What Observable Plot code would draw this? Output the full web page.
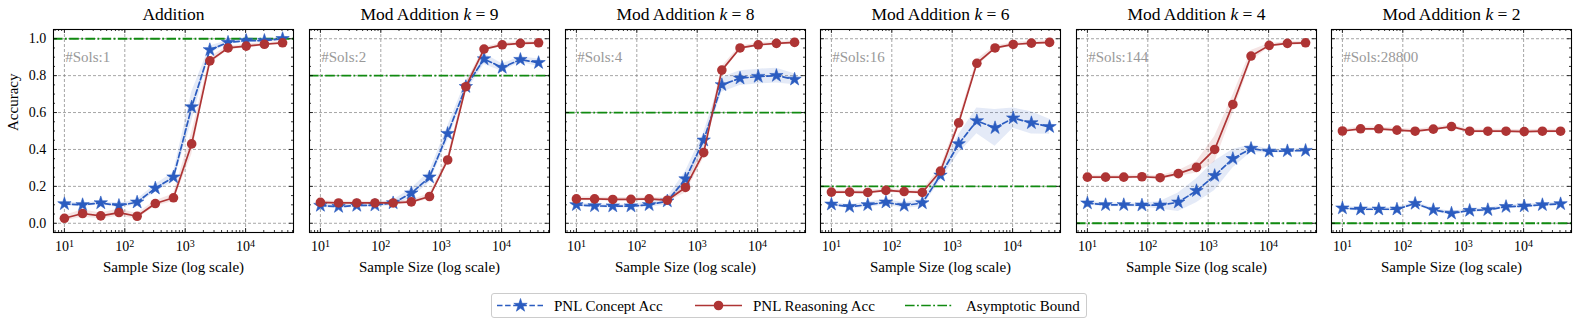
<!DOCTYPE html>
<html><head><meta charset="utf-8">
<script src="https://cdn.jsdelivr.net/npm/d3@7"></script>
<script src="https://cdn.jsdelivr.net/npm/@observablehq/plot@0.6"></script>
<style>
body{margin:0;background:#fff;font-family:"Liberation Serif",serif;}
#root{position:relative;width:1578px;height:326px;overflow:hidden;background:#fff;}
.panel{position:absolute;top:0;width:305px;}
.panel svg{max-width:none !important;}
</style></head><body><div id="root"></div>
<script>
// ---- data ----
const sizes = [10,20,40,80,160,320,640,1280,2560,5120,10240,20480,40960];
const titles = ["Addition","Mod Addition k = 9","Mod Addition k = 8","Mod Addition k = 6","Mod Addition k = 4","Mod Addition k = 2"];
const sols = [1,2,4,16,144,28800];
const bounds = [1.0,0.8,0.6,0.2,0.0,0.0];

const conceptAdd = [0.105,0.10,0.11,0.096,0.114,0.19,0.25,0.63,0.94,0.98,0.99,0.99,1.0];
const reasonAdd  = [0.027,0.053,0.04,0.058,0.038,0.107,0.138,0.43,0.88,0.95,0.96,0.97,0.978];
const conceptAddErr = [0.01,0.01,0.01,0.01,0.015,0.02,0.025,0.08,0.02,0.01,0.01,0.01,0.005];
const reasonAddErr  = [0.015,0.02,0.015,0.02,0.015,0.015,0.02,0.06,0.02,0.01,0.01,0.01,0.005];

const conceptK9 = [0.096,0.09,0.096,0.098,0.11,0.163,0.25,0.486,0.74,0.89,0.844,0.887,0.87];
const reasonK9  = [0.113,0.11,0.11,0.11,0.11,0.116,0.145,0.343,0.74,0.944,0.967,0.975,0.978];
const conceptK9Err = [0.01,0.01,0.01,0.01,0.015,0.025,0.03,0.04,0.03,0.03,0.02,0.015,0.02];
const reasonK9Err  = [0.01,0.01,0.01,0.01,0.01,0.01,0.015,0.02,0.02,0.01,0.01,0.01,0.01];

const conceptK8 = [0.10,0.094,0.093,0.093,0.10,0.12,0.24,0.45,0.75,0.786,0.795,0.80,0.78];
const reasonK8  = [0.132,0.132,0.129,0.13,0.132,0.125,0.194,0.383,0.83,0.95,0.967,0.975,0.98];
const conceptK8Err = [0.01,0.01,0.01,0.01,0.015,0.02,0.04,0.04,0.04,0.04,0.04,0.04,0.03];
const reasonK8Err  = [0.01,0.01,0.01,0.01,0.01,0.01,0.03,0.03,0.02,0.01,0.01,0.01,0.01];

const conceptK6 = [0.103,0.09,0.10,0.114,0.096,0.11,0.26,0.43,0.555,0.517,0.57,0.544,0.523];
const reasonK6  = [0.169,0.169,0.167,0.178,0.172,0.167,0.283,0.544,0.867,0.95,0.969,0.976,0.98];
const conceptK6Err = [0.01,0.01,0.015,0.015,0.015,0.02,0.03,0.05,0.07,0.1,0.055,0.06,0.04];
const reasonK6Err  = [0.01,0.01,0.01,0.01,0.01,0.01,0.02,0.02,0.02,0.01,0.01,0.01,0.01];

const conceptK4 = [0.109,0.10,0.10,0.098,0.098,0.114,0.176,0.258,0.35,0.405,0.39,0.392,0.394];
const reasonK4  = [0.25,0.25,0.25,0.252,0.247,0.269,0.303,0.40,0.644,0.906,0.964,0.975,0.978];
const conceptK4Err = [0.01,0.01,0.01,0.01,0.02,0.05,0.065,0.08,0.05,0.02,0.01,0.01,0.01];
const reasonK4Err  = [0.01,0.01,0.01,0.01,0.01,0.015,0.03,0.07,0.05,0.03,0.01,0.01,0.01];

const conceptK2 = [0.082,0.076,0.076,0.076,0.107,0.073,0.054,0.069,0.073,0.09,0.093,0.10,0.105];
const reasonK2  = [0.50,0.512,0.512,0.505,0.499,0.51,0.524,0.499,0.499,0.499,0.497,0.499,0.499];
const conceptK2Err = [0.01,0.01,0.01,0.01,0.01,0.01,0.01,0.01,0.01,0.01,0.01,0.01,0.01];
const reasonK2Err  = [0.01,0.01,0.01,0.01,0.01,0.01,0.01,0.01,0.01,0.01,0.01,0.01,0.01];

const xMajor = [10,100,1000,10000];
const xMinor = [7,8,9,20,30,40,50,60,70,80,90,200,300,400,500,600,700,800,900,2000,3000,4000,5000,6000,7000,8000,9000,20000,30000,40000,50000,60000];
const yMajor = [0,0.2,0.4,0.6,0.8,1.0];
const yMinor = [-0.05,0.05,0.1,0.15,0.25,0.3,0.35,0.45,0.5,0.55,0.65,0.7,0.75,0.85,0.9,0.95,1.05];

const concepts = [conceptAdd,conceptK9,conceptK8,conceptK6,conceptK4,conceptK2];
const conceptErrs = [conceptAddErr,conceptK9Err,conceptK8Err,conceptK6Err,conceptK4Err,conceptK2Err];
const reasons = [reasonAdd,reasonK9,reasonK8,reasonK6,reasonK4,reasonK2];
const reasonErrs = [reasonAddErr,reasonK9Err,reasonK8Err,reasonK6Err,reasonK4Err,reasonK2Err];

// ---- style ----
const BLUE = "#2b5cc0", RED = "#ae3434", GREEN = "#108a10";
const FW = 240, FH = 203, ML = 55, MR = 10, MT = 30, MB = 65;
const FRAME_TOP = 29.3, FRAME_LEFT0 = 53.3, STEP = 255.6;
const FONT = "Liberation Serif";
const STAR_R = 4.2, CIRC_R = 4.8;

const root = document.getElementById("root");

titles.forEach((title, i) => {
  const data = sizes.map((n, j) => ({
    n,
    c: concepts[i][j], clo: concepts[i][j] - conceptErrs[i][j], chi: concepts[i][j] + conceptErrs[i][j],
    r: reasons[i][j], rlo: reasons[i][j] - reasonErrs[i][j], rhi: reasons[i][j] + reasonErrs[i][j]
  }));
  const tickStyle = {stroke: "black", strokeWidth: 0.8};
  const gridStyle = {stroke: "#808080", strokeOpacity: 1, strokeWidth: 0.7, strokeDasharray: "3,2"};
  const marks = [
    Plot.gridX(xMajor, gridStyle),
    Plot.gridY(yMajor, gridStyle),
    Plot.ruleY([bounds[i]], {stroke: GREEN, strokeWidth: 1.8, strokeDasharray: "9.6,2.4,1.8,2.4"}),
    Plot.areaY(data, {x: "n", y1: "clo", y2: "chi", fill: BLUE, fillOpacity: 0.13}),
    Plot.areaY(data, {x: "n", y1: "rlo", y2: "rhi", fill: RED, fillOpacity: 0.13}),
    Plot.line(data, {x: "n", y: "c", stroke: BLUE, strokeWidth: 1.7, strokeDasharray: "5.5,2.6"}),
    Plot.dot(data, {x: "n", y: "c", symbol: "star", r: STAR_R, fill: BLUE, stroke: BLUE, strokeWidth: 0.6}),
    Plot.line(data, {x: "n", y: "r", stroke: RED, strokeWidth: 1.7}),
    Plot.dot(data, {x: "n", y: "r", r: CIRC_R, fill: RED, stroke: "none"}),
    // ticks (inward, all four sides)
    Plot.ruleX(xMajor, {...tickStyle, insetTop: FH - 4}),
    Plot.ruleX(xMajor, {...tickStyle, insetBottom: FH - 4}),
    Plot.ruleX(xMinor, {...tickStyle, insetTop: FH - 2}),
    Plot.ruleX(xMinor, {...tickStyle, insetBottom: FH - 2}),
    Plot.ruleY(yMajor, {...tickStyle, insetRight: FW - 4}),
    Plot.ruleY(yMajor, {...tickStyle, insetLeft: FW - 4}),
    Plot.ruleY(yMinor, {...tickStyle, insetRight: FW - 2}),
    Plot.ruleY(yMinor, {...tickStyle, insetLeft: FW - 2}),
    Plot.frame({stroke: "black", strokeWidth: 1.1}),
    // texts
    Plot.text(xMajor, {x: d => d, frameAnchor: "bottom", lineAnchor: "bottom", dy: 18.3,
      text: d => "10^" + Math.round(Math.log10(d)), fontSize: 14, fill: "black"}),
    Plot.text(["Sample Size (log scale)"], {frameAnchor: "bottom", lineAnchor: "bottom", dy: 39.5, fontSize: 15, fill: "black"}),
    Plot.text([title], {frameAnchor: "top", lineAnchor: "bottom", dy: -10, fontSize: 17.5, fill: "black"}),
    Plot.text(["#Sols:" + sols[i]], {frameAnchor: "top-left", textAnchor: "start", lineAnchor: "bottom", dx: 11.7, dy: 32.4, fontSize: 15, fill: "#999999"})
  ];
  if (i === 0) {
    marks.push(Plot.text(yMajor, {y: d => d, frameAnchor: "left", textAnchor: "end", dx: -7.3, text: d => d.toFixed(1), fontSize: 14, fill: "black"}));
    marks.push(Plot.text(["Accuracy"], {frameAnchor: "left", rotate: -90, dx: -40.3, fontSize: 15, fill: "black"}));
  }
  const svg = Plot.plot({
    width: FW + ML + MR, height: FH + MT + MB,
    marginLeft: ML, marginRight: MR, marginTop: MT, marginBottom: MB,
    style: {fontFamily: FONT, fontSize: "14px", background: "transparent", overflow: "visible", maxWidth: "none"},
    x: {type: "log", domain: [6.597, 62110], axis: null},
    y: {domain: [-0.05, 1.05], axis: null},
    marks
  });
  // superscripts for tick labels, italic k in titles
  d3.select(svg).selectAll("text").each(function() {
    const t = this.textContent;
    let m = t.match(/^10\^(\d)$/);
    if (m) {
      this.textContent = "10";
      d3.select(this).append("tspan").attr("dy", "-0.42em").attr("font-size", "10px").text(m[1]);
      return;
    }
    m = t.match(/^Mod Addition k = (\d)$/);
    if (m) {
      this.textContent = "";
      const s = d3.select(this);
      s.append("tspan").text("Mod Addition ");
      s.append("tspan").attr("font-style", "italic").text("k");
      s.append("tspan").text(" = " + m[1]);
    }
  });
  svg.style.maxWidth = "none";
  const wrap = document.createElement("div");
  wrap.className = "panel";
  wrap.style.left = (FRAME_LEFT0 + i * STEP - ML) + "px";
  wrap.style.top = (FRAME_TOP - MT) + "px";
  wrap.appendChild(svg);
  root.appendChild(wrap);
});

// ---- legend ----
const legendItems = [
  {label: "PNL Concept Acc", color: BLUE, dash: "5.5,2.6", marker: "star", x0: 497, tx: 554},
  {label: "PNL Reasoning Acc", color: RED, dash: null, marker: "circle", x0: 695, tx: 753},
  {label: "Asymptotic Bound", color: GREEN, dash: "9.6,2.4,1.8,2.4", marker: null, x0: 905, tx: 966}
];
const box = document.createElement("div");
box.style.cssText = "position:absolute;left:491px;top:293px;width:594px;height:23px;border:1.2px solid #cccccc;border-radius:3px;background:#fff;";
root.appendChild(box);
const legSvg = d3.select(root).append("svg")
  .attr("width", 1578).attr("height", 326)
  .style("position", "absolute").style("left", "0px").style("top", "0px");
const LY = 305.5;
legendItems.forEach(it => {
  legSvg.append("line").attr("x1", it.x0).attr("x2", it.x0 + 47).attr("y1", LY).attr("y2", LY)
    .attr("stroke", it.color).attr("stroke-width", 1.7).attr("stroke-dasharray", it.dash);
  if (it.marker === "star") {
    legSvg.append("path").attr("d", d3.symbol(d3.symbolStar, Math.PI * STAR_R * STAR_R)())
      .attr("transform", `translate(${it.x0 + 23.5},${LY})`).attr("fill", it.color)
      .attr("stroke", it.color).attr("stroke-width", 0.6);
  } else if (it.marker === "circle") {
    legSvg.append("circle").attr("cx", it.x0 + 23.5).attr("cy", LY).attr("r", CIRC_R).attr("fill", it.color);
  }
  legSvg.append("text").attr("x", it.tx).attr("y", LY + 5)
    .attr("font-family", FONT).attr("font-size", 15).attr("fill", "black").text(it.label);
});
</script></body></html>
